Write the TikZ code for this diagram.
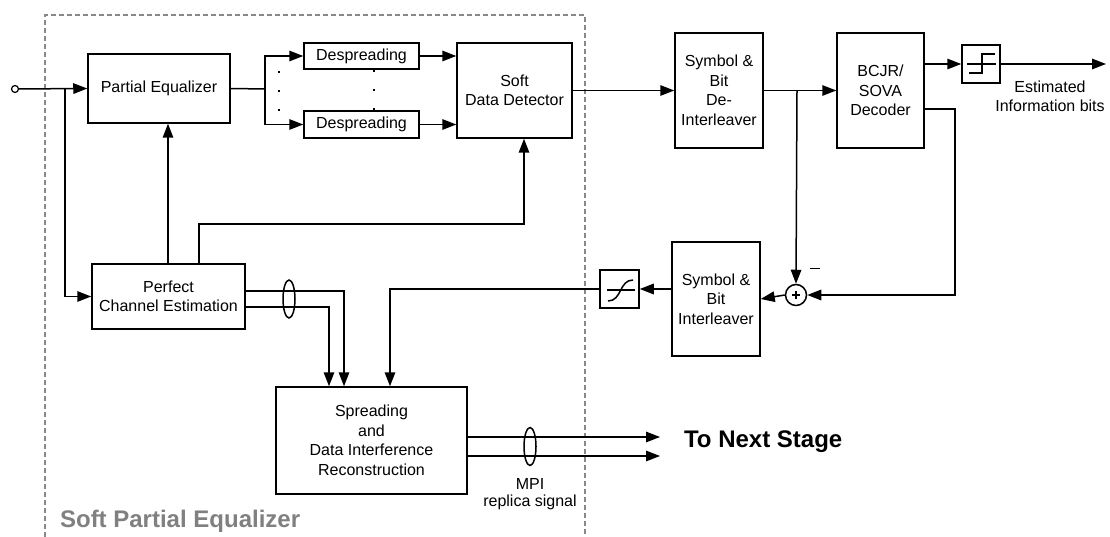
\documentclass[tikz,border=0pt]{standalone}
\usepackage{fontspec}
\setmainfont{Liberation Sans}
\usetikzlibrary{arrows.meta,shapes.geometric}
\definecolor{framegray}{HTML}{888888}
\definecolor{labelgray}{HTML}{808080}
\begin{document}
\begin{tikzpicture}[x=1pt,y=-1pt,
  line width=1.5pt,
  font=\fontsize{16}{19.5}\selectfont,
  >={Triangle[length=14pt,width=10.5pt]},
  blk/.style={draw, rectangle, inner sep=0pt, align=center, line width=1.5pt},
  bundle/.style={draw, ellipse, minimum width=12pt, minimum height=38pt, inner sep=0pt, line width=1.5pt},
  dotmark/.style={fill=black, minimum size=2.4pt, inner sep=0pt, rectangle}]
\useasboundingbox (0,0) rectangle (1110,537);

% frame of the soft partial equalizer
\draw[framegray, line width=2.5pt, dash pattern=on 5pt off 3pt] (45,537) -- (45,15) -- (585,15) -- (585,537);
\node[anchor=west, text=labelgray, font=\fontsize{24}{28}\selectfont\bfseries] (spelabel) at (56,521) {Soft Partial Equalizer};

% blocks
\node[blk, minimum width=142pt, minimum height=69pt] (pe) at (159,88.5) {Partial Equalizer};
\node[blk, minimum width=115pt, minimum height=26pt] (ds1) at (361.5,56) {Despreading};
\node[blk, minimum width=115pt, minimum height=27pt] (ds2) at (361.5,124.5) {Despreading};
\node[blk, minimum width=115pt, minimum height=95pt] (sdd) at (514.5,90.5) {Soft\\Data Detector};
\node[blk, minimum width=88pt, minimum height=115pt] (deint) at (719,90.5) {Symbol \&\\Bit\\De-\\Interleaver};
\node[blk, minimum width=87pt, minimum height=115pt] (bcjr) at (880.5,90.5) {BCJR/\\SOVA\\Decoder};
\node[blk, minimum width=38pt, minimum height=38pt] (hl) at (981,64) {};
\node[blk, minimum width=88pt, minimum height=114pt] (intl) at (716,299) {Symbol \&\\Bit\\Interleaver};
\node[blk, minimum width=39pt, minimum height=38pt] (sig) at (619.5,289) {};
\node[draw, circle, minimum size=21pt, inner sep=0pt, line width=1.5pt] (add) at (796,295) {};
\node[blk, minimum width=153pt, minimum height=65pt] (pce) at (168.5,296.5) {Perfect\\Channel Estimation};
\node[blk, minimum width=191pt, minimum height=107pt] (spr) at (371.5,440.5) {Spreading\\and\\Data Interference\\Reconstruction};

% adder sign and hard / soft limiter symbols
\draw[line width=1.1pt] (792,295) -- (800,295) (796,291) -- (796,299);
\draw[line width=1.2pt] (967,64) -- (996,64);
\draw (969,73) -- (982,73) -- (982,54) -- (995,54);
\draw[line width=1.2pt] (607,290) -- (635,290);
\draw (608,301) .. controls (622,301) and (619,280) .. (633,280);

% input terminal and branch points
\node[draw, circle, minimum size=7pt, inner sep=0pt, line width=1.2pt, fill=white] (in) at (15,89) {};
\coordinate (split) at (65,89);
\coordinate (fork) at (265,89);
\coordinate (tap) at (797,90.5);
\coordinate (csi) at (199,224);
\coordinate (fb) at (955,109);
\coordinate (out) at (1106,64);

% front end
\draw[->] (in) -- (pe.west);
\draw[->] (split) |- (pce.west);
\draw[->] (pce.north -| 168,0) -- (168,0 |- pe.south);
\draw[->] (199,0 |- pce.north) -- (csi) -| (524,0 |- sdd.south);

% despreading branches
\draw (pe.east) -- (fork);
\draw[->] (fork) |- (ds1.west);
\draw[->] (fork) |- (ds2.west);
\draw[->] (ds1.east) -- (ds1.east -| sdd.west);
\draw[->] (ds2.east) -- (ds2.east -| sdd.west);
\node[dotmark] (d1) at (279,72) {};
\node[dotmark] (d2) at (279,91) {};
\node[dotmark] (d3) at (279,110) {};
\node[dotmark] (d4) at (374,71) {};
\node[dotmark] (d5) at (374,90) {};
\node[dotmark] (d6) at (374,109) {};

% forward path to the decoder
\draw[->] (sdd.east) -- (deint.west);
\draw[->] (deint.east) -- (bcjr.west);
\draw[->] (bcjr.east |- hl.west) -- (hl.west);
\draw[->] (hl.east) -- (out);
\node[align=center, font=\fontsize{16}{19}\selectfont] (estlbl) at (1050,96.5) {Estimated\\Information bits};

% extrinsic feedback loop
\draw[->] (tap) -- (add.north);
\draw[line width=1.2pt] (810,268.5) -- (820,268.5);
\draw[->] (bcjr.east |- fb) -- (fb) |- (add.east);
\draw[->] (add.west) -- (intl.east);
\draw[->] (intl.west |- sig.east) -- (sig.east);
\draw[->] (sig.west) -| (390,0 |- spr.north);

% channel estimates to reconstruction
\draw[->] (pce.east |- 0,291) -| (344,0 |- spr.north);
\draw[->] (pce.east |- 0,307) -| (329,0 |- spr.north);
\node[bundle] (b1) at (289,299) {};

% outputs to the next stage
\draw[->] (spr.east |- 0,437) -- (660,437);
\draw[->] (spr.east |- 0,456) -- (660,456);
\node[bundle] (b2) at (530,446.5) {};
\node[align=center, font=\fontsize{16}{17}\selectfont] (mpilbl) at (530,494) {MPI\\replica signal};
\node[anchor=west, font=\fontsize{24}{28}\selectfont\bfseries] (nextlbl) at (680,442) {To Next Stage};
\end{tikzpicture}
\end{document}
